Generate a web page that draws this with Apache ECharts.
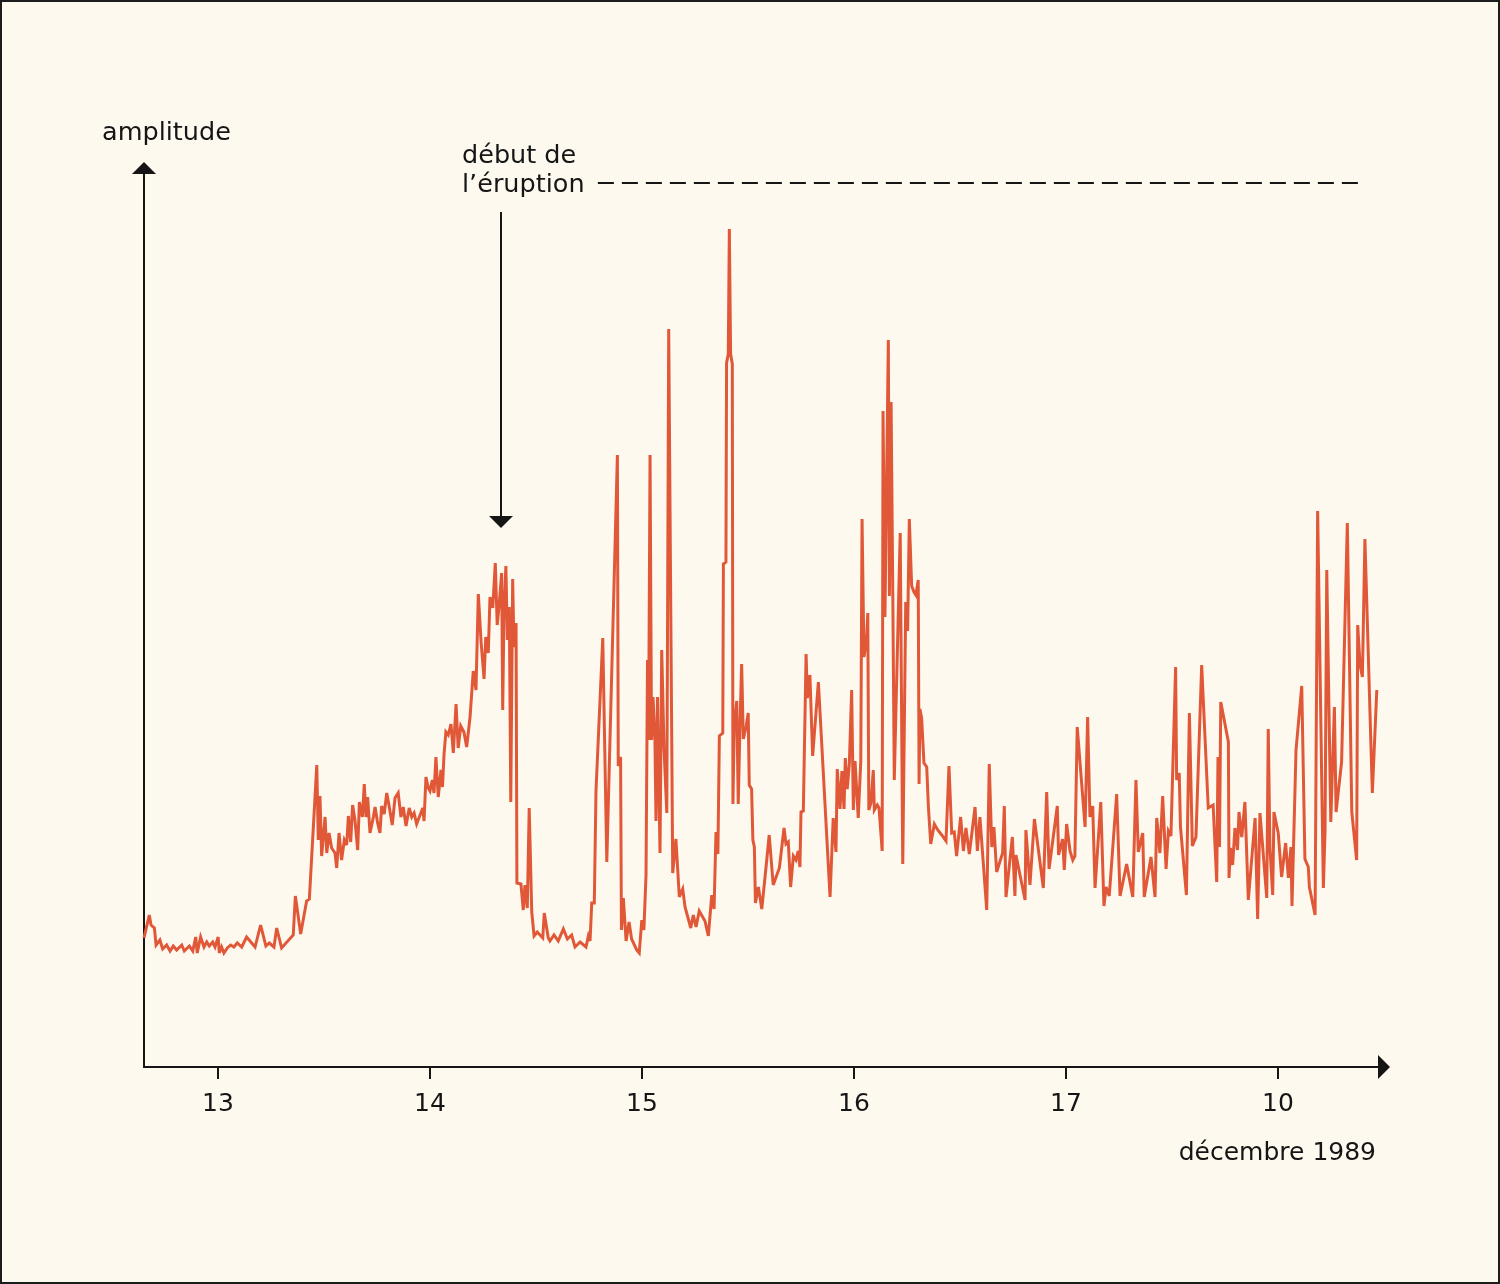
<!DOCTYPE html>
<html>
<head>
<meta charset="utf-8">
<script src="https://cdn.jsdelivr.net/npm/echarts@6/dist/echarts.min.js"></script>
<style>
html,body{margin:0;padding:0;background:#fef9ef;}
#chart{position:absolute;left:0;top:0;width:1500px;height:1284px;}
#frame{position:absolute;left:0;top:0;width:1500px;height:1284px;box-sizing:border-box;border:2px solid #1c1c1c;pointer-events:none;}
</style>
</head>
<body>
<div id="chart"></div>
<div id="frame"></div>
<script>
// time in days of December 1989 (13 = 13 Dec 00:00)
const time = [
12.651,12.676,12.684,12.700,12.708,12.726,12.739,12.758,12.774,12.789,
12.805,12.829,12.841,12.865,12.881,12.895,12.902,12.918,12.934,12.947,
12.959,12.975,12.986,13.001,13.006,13.017,13.028,13.044,13.060,13.075,
13.091,13.112,13.135,13.175,13.201,13.226,13.242,13.264,13.277,13.300,
13.355,13.365,13.390,13.418,13.431,13.466,13.473,13.481,13.489,13.505,
13.513,13.524,13.536,13.552,13.560,13.571,13.583,13.596,13.607,13.615,
13.626,13.635,13.646,13.659,13.667,13.681,13.690,13.698,13.706,13.717,
13.733,13.741,13.753,13.764,13.772,13.784,13.796,13.808,13.822,13.835,
13.850,13.863,13.874,13.887,13.902,13.914,13.925,13.937,13.966,13.972,
13.981,13.992,14.000,14.011,14.019,14.028,14.039,14.052,14.059,14.066,
14.075,14.086,14.099,14.110,14.123,14.133,14.145,14.160,14.173,14.189,
14.197,14.204,14.217,14.228,14.241,14.255,14.263,14.275,14.283,14.296,
14.308,14.317,14.327,14.338,14.343,14.349,14.358,14.365,14.374,14.381,
14.390,14.396,14.406,14.410,14.429,14.440,14.448,14.459,14.468,14.480,
14.491,14.506,14.532,14.539,14.558,14.566,14.585,14.605,14.629,14.648,
14.668,14.684,14.708,14.736,14.747,14.755,14.763,14.775,14.783,14.815,
14.834,14.884,14.888,14.899,14.903,14.912,14.925,14.939,14.951,14.975,
14.987,14.999,15.009,15.019,15.026,15.031,15.038,15.045,15.052,15.061,
15.066,15.073,15.085,15.093,15.104,15.117,15.126,15.145,15.160,15.176,
15.192,15.203,15.230,15.242,15.255,15.270,15.297,15.313,15.329,15.340,
15.349,15.358,15.365,15.381,15.384,15.396,15.399,15.407,15.412,15.418,
15.426,15.429,15.435,15.447,15.454,15.462,15.470,15.478,15.491,15.501,
15.506,15.517,15.523,15.530,15.535,15.540,15.549,15.565,15.588,15.600,
15.619,15.648,15.670,15.679,15.690,15.701,15.714,15.726,15.737,15.745,
15.750,15.761,15.774,15.780,15.792,15.805,15.832,15.887,15.902,15.915,
15.921,15.934,15.943,15.953,15.959,15.968,15.978,15.989,15.997,16.005,
16.020,16.032,16.038,16.047,16.059,16.065,16.070,16.080,16.091,16.096,
16.110,16.118,16.133,16.137,16.146,16.162,16.167,16.175,16.183,16.190,
16.218,16.230,16.244,16.253,16.261,16.272,16.283,16.292,16.303,16.307,
16.311,16.319,16.330,16.343,16.351,16.362,16.379,16.395,16.414,16.434,
16.448,16.461,16.473,16.484,16.503,16.516,16.528,16.544,16.571,16.582,
16.594,16.626,16.638,16.650,16.660,16.673,16.701,16.709,16.717,16.747,
16.759,16.764,16.807,16.811,16.830,16.851,16.893,16.909,16.920,16.959,
16.965,16.984,16.992,17.003,17.019,17.032,17.042,17.053,17.090,17.102,
17.113,17.126,17.137,17.164,17.179,17.189,17.204,17.239,17.255,17.286,
17.315,17.330,17.341,17.349,17.362,17.369,17.401,17.420,17.428,17.443,
17.456,17.472,17.483,17.495,17.517,17.522,17.534,17.540,17.549,17.568,
17.582,17.596,17.613,17.640,17.671,17.694,17.711,17.717,17.724,17.730,
17.766,17.769,17.776,17.786,17.797,17.809,17.816,17.829,17.844,17.860,
17.892,17.904,17.915,17.947,17.954,17.962,17.975,17.981,18.001,18.017,
18.036,18.049,18.061,18.066,18.085,18.112,18.127,18.143,18.148,18.175,
18.187,18.214,18.222,18.230,18.249,18.266,18.274,18.300,18.327,18.348,
18.371,18.376,18.387,18.398,18.410,18.445,18.466
];
// amplitude, arbitrary units
const amplitude = [
12.9,15.2,14.2,13.9,12.2,12.7,11.8,12.2,11.6,12.1,
11.7,12.2,11.6,12.1,11.6,13.0,11.4,13.0,12.0,12.5,
12.1,12.5,12.0,13.0,11.4,12.0,11.4,11.9,12.2,12.0,
12.4,12.0,13.0,12.0,14.2,12.1,12.4,12.0,13.9,11.9,
13.2,17.1,13.3,16.6,16.8,30.2,22.7,27.1,21.1,25.0,
21.4,23.4,21.9,21.4,19.9,23.4,20.7,22.7,22.2,25.1,
22.5,26.2,24.7,21.7,26.5,25.0,28.3,25.0,27.0,23.4,
25.0,26.0,24.4,23.4,26.1,25.3,27.4,26.0,24.2,26.9,
27.4,25.0,26.0,24.1,25.9,25.0,25.4,24.3,25.9,24.6,
29.0,27.9,27.6,28.7,27.4,31.0,27.0,29.7,28.0,31.2,
33.5,33.2,34.3,31.4,36.3,31.9,34.1,33.5,32.0,35.0,
35.0,39.6,37.7,47.3,42.5,38.8,43.0,41.4,47.0,45.9,
50.4,44.2,46.4,49.4,35.7,45.5,50.1,42.7,46.0,26.5,
48.8,42.0,44.4,18.4,18.3,15.7,18.2,15.9,25.9,15.5,
13.1,13.5,12.9,15.4,12.9,12.6,13.2,12.6,13.8,12.8,
13.2,12.0,12.5,12.0,13.1,12.6,16.4,16.4,27.6,42.9,
20.5,61.2,30.1,31.0,13.7,16.9,12.6,14.5,12.8,11.7,
11.4,14.7,13.7,19.2,40.7,32.7,61.2,32.7,37.0,32.7,
24.6,37.0,21.4,41.7,31.8,25.4,73.8,19.4,22.8,17.0,
17.8,16.0,13.9,15.2,14.0,15.6,14.6,13.1,17.2,15.8,
23.5,21.3,33.1,33.4,50.3,50.5,70.4,71.3,83.8,71.3,
70.3,26.3,34.0,36.6,26.3,34.0,40.3,32.8,34.0,35.4,
28.2,27.8,22.7,22.0,16.4,16.4,18.0,15.8,20.6,23.2,
18.2,19.9,23.9,22.3,22.5,18.0,21.1,20.7,21.6,20.0,
25.5,25.6,41.3,36.9,39.2,31.1,38.5,17.0,24.9,21.5,
29.8,25.8,29.6,25.8,30.9,27.8,30.3,37.7,25.7,30.6,
24.9,30.6,54.8,41.0,42.7,45.4,25.7,26.4,29.7,25.7,
26.2,25.9,21.6,65.6,45.0,72.7,47.1,66.5,47.3,28.7,
53.4,20.3,46.5,43.6,54.8,48.1,47.5,47.2,48.7,28.3,
35.8,34.9,30.4,30.0,26.0,22.3,24.3,23.7,23.2,22.6,
30.1,23.4,23.5,21.1,25.0,21.6,23.9,21.3,26.0,21.6,
25.0,15.7,30.3,22.0,24.0,19.5,21.4,26.1,17.0,23.0,
17.1,21.2,16.7,23.7,18.2,24.8,17.9,27.5,19.8,26.1,
21.2,22.8,19.7,24.3,21.6,20.7,21.1,34.0,24.0,35.0,
25.0,26.1,17.9,26.5,16.1,18.0,17.1,27.3,17.1,20.3,
17.0,28.7,21.5,22.2,23.4,17.0,21.0,17.0,24.9,21.4,
27.1,19.8,23.6,23.1,40.0,28.7,29.4,24.0,23.9,17.2,
35.4,22.1,23.0,40.2,25.9,26.2,18.5,31.0,22.0,36.5,
32.5,18.9,21.9,20.2,23.9,21.7,25.5,23.0,26.5,16.7,
24.9,14.8,25.4,16.9,33.8,21.9,17.2,25.5,23.4,19.0,
22.4,18.9,22.0,16.1,31.7,38.1,20.8,20.0,18.0,15.2,
55.6,17.9,23.7,49.7,24.5,36.0,25.5,30.5,54.4,25.5,
20.7,44.2,40.2,39.0,52.8,27.4,37.7
];
const dayTicks = [13, 14, 15, 16, 17, 18];
const dayLabels = ['13', '14', '15', '16', '17', '10'];
const xRange = [12.651, 18.5];
const yRange = [0, 89.9];
// annotation: start of eruption
const eruptionTime = 14.335;
const eruptionArrowSpan = [85.5, 54.5];
const eruptionDashSpan = [14.792, 18.396];
const eruptionDashLevel = 88.4;

if (time.length !== amplitude.length) console.error('length mismatch', time.length, amplitude.length);

const FONT = '"DejaVu Sans", "Liberation Sans", sans-serif';
const INK = '#151515';
const LINE = '#e15838';

const chart = echarts.init(document.getElementById('chart'), null, {renderer: 'canvas'});
chart.setOption({
  backgroundColor: '#fef9ef',
  animation: false,
  grid: {left: 144, right: 116, top: 168, bottom: 217, containLabel: false},
  xAxis: {
    type: 'value', min: xRange[0], max: xRange[1],
    splitLine: {show: false},
    axisLine: {show: true, onZero: false, lineStyle: {color: INK, width: 2},
      symbol: ['none', 'triangle'], symbolSize: [24, 12]},
    axisTick: {show: true, inside: false, length: 12, lineStyle: {color: INK, width: 2},
      customValues: dayTicks},
    axisLabel: {show: true, margin: 25, fontSize: 25, fontFamily: FONT, color: INK,
      customValues: dayTicks,
      formatter: v => dayLabels[dayTicks.indexOf(Math.round(v))] || ''}
  },
  yAxis: {
    type: 'value', min: yRange[0], max: yRange[1],
    splitLine: {show: false},
    axisLine: {show: true, onZero: false, lineStyle: {color: INK, width: 2},
      symbol: ['none', 'triangle'], symbolSize: [24, 12]},
    axisTick: {show: false},
    axisLabel: {show: false}
  },
  series: [{
    type: 'line',
    data: time.map((t, i) => [t, amplitude[i]]),
    showSymbol: false,
    symbol: 'none',
    clip: false,
    lineStyle: {color: LINE, width: 3, join: 'miter', miterLimit: 4},
    z: 3,
    markLine: {
      silent: true, animation: false,
      label: {show: false},
      symbol: ['none', 'none'],
      data: [
        [
          {coord: [eruptionTime, eruptionArrowSpan[0]], symbol: 'none',
            lineStyle: {color: INK, width: 2, type: 'solid'}},
          {coord: [eruptionTime, eruptionArrowSpan[1]], symbol: 'triangle', symbolSize: [24, 12]}
        ],
        [
          {coord: [eruptionDashSpan[0], eruptionDashLevel], symbol: 'none',
            lineStyle: {color: INK, width: 2, type: [16, 8]}},
          {coord: [eruptionDashSpan[1], eruptionDashLevel], symbol: 'none'}
        ]
      ]
    }
  }],
  graphic: [
    {type: 'text', x: 102, y: 133, style: {text: 'amplitude', font: '25.5px ' + FONT, fill: INK, align: 'left', verticalAlign: 'middle'}},
    {type: 'text', x: 462, y: 156, style: {text: 'début de', font: '25.5px ' + FONT, fill: INK, align: 'left', verticalAlign: 'middle'}},
    {type: 'text', x: 462, y: 185, style: {text: 'l’éruption', font: '25.5px ' + FONT, fill: INK, align: 'left', verticalAlign: 'middle'}},
    {type: 'text', x: 1376, y: 1153, style: {text: 'décembre 1989', font: '25px ' + FONT, fill: INK, align: 'right', verticalAlign: 'middle'}}
  ]
});
</script>
</body>
</html>
